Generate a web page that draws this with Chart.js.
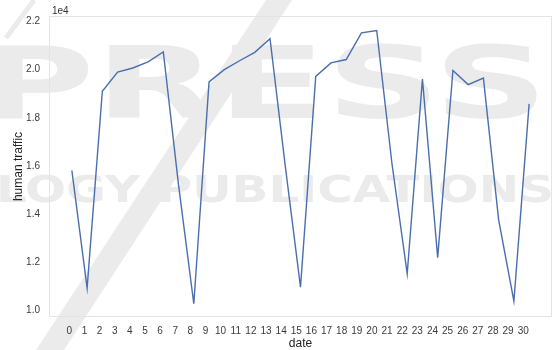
<!DOCTYPE html>
<html>
<head>
<meta charset="utf-8">
<script src="https://cdn.jsdelivr.net/npm/chart.js@4/dist/chart.umd.min.js"></script>
<style>
  html, body { margin: 0; padding: 0; background: #ffffff; }
  canvas { display: block; }
</style>
</head>
<body>
<canvas id="chart" width="554" height="350"></canvas>
<script>
// Daily human traffic over one month
const dates = [0, 1, 2, 3, 4, 5, 6, 7, 8, 9, 10, 11, 12, 13, 14, 15,
               16, 17, 18, 19, 20, 21, 22, 23, 24, 25, 26, 27, 28, 29, 30];
const traffic = [15810, 10920, 19100, 19900, 20070, 20320, 20735, 15200, 10270, 19490,
                 20000, 20370, 20720, 21290, 16000, 10960, 19720, 20280, 20420, 21530,
                 21630, 16100, 11520, 19610, 12190, 19970, 19380, 19650, 13760, 10380, 18580];
const yTicks = [10000, 12000, 14000, 16000, 18000, 20000, 22000];
const yScaleFactor = 1e4;

const FONT = '"Liberation Sans", Arial, sans-serif';
const MARK_FONT = '"DejaVu Sans", sans-serif';
const MARK_COLOR = '#ebebeb';

// Background, publisher watermark and frame
const backdrop = {
  id: 'backdrop',
  beforeDraw(chart) {
    const ctx = chart.ctx;
    ctx.save();
    ctx.fillStyle = '#ffffff';
    ctx.fillRect(0, 0, chart.width, chart.height);

    // slanted logo strokes
    ctx.fillStyle = MARK_COLOR;
    ctx.beginPath();
    ctx.moveTo(266, 0); ctx.lineTo(292, 0); ctx.lineTo(64, 350); ctx.lineTo(36, 350);
    ctx.closePath();
    ctx.fill();
    ctx.strokeStyle = MARK_COLOR;
    ctx.lineWidth = 5;
    ctx.beginPath();
    ctx.moveTo(34, 0); ctx.lineTo(6, 38);
    ctx.stroke();

    ctx.textBaseline = 'alphabetic';
    ctx.textAlign = 'left';
    const stretched = (text, size, x0, x1, base) => {
      ctx.font = 'bold ' + size + 'px ' + MARK_FONT;
      const w = ctx.measureText(text).width;
      ctx.save();
      ctx.translate(x0, base);
      ctx.scale((x1 - x0) / w, 1);
      ctx.fillText(text, 0, 0);
      ctx.restore();
    };
    stretched('PRESS', 100, -22, 548, 118);
    stretched('LOGY PUBLICATIONS', 38, -4, 554, 202);
    ctx.restore();
  },
  afterDraw(chart) {
    const {ctx, chartArea: a} = chart;
    ctx.save();
    ctx.fillStyle = '#333333';
    ctx.font = '10px ' + FONT;
    ctx.textAlign = 'left';
    ctx.textBaseline = 'middle';
    ctx.fillText('1e' + Math.round(Math.log10(yScaleFactor)), a.left + 3, 11);
    ctx.restore();
  },
  beforeDatasetsDraw(chart) {
    const {ctx, chartArea: a} = chart;
    ctx.save();
    ctx.strokeStyle = '#e4e4e4';
    ctx.lineWidth = 1;
    ctx.strokeRect(a.left + 0.5, a.top + 0.5, a.right - a.left - 1, a.bottom - a.top - 1);
    ctx.restore();
  }
};

new Chart(document.getElementById('chart'), {
  type: 'line',
  data: {
    datasets: [{
      label: 'human traffic',
      data: dates.map((d, i) => ({x: d, y: traffic[i]})),
      borderColor: '#4a6fae',
      borderWidth: 1.4,
      pointRadius: 0,
      tension: 0,
      fill: false,
      xAxisID: 'x',
      yAxisID: 'y'
    }]
  },
  options: {
    responsive: false,
    animation: false,
    layout: { padding: { left: 0, right: 2, top: 16, bottom: 0 } },
    plugins: { legend: { display: false }, tooltip: { enabled: false } },
    scales: {
      x: {
        type: 'linear',
        position: 'bottom',
        display: false,
        min: -1.5,
        max: 31.5
      },
      xTicks: {
        type: 'linear',
        position: 'bottom',
        min: -1.342,
        max: 31.9,
        afterBuildTicks: axis => { axis.ticks = dates.map(d => ({value: d})); },
        afterFit: axis => { axis.height = 33; },
        grid: { display: false, drawTicks: false },
        border: { display: false },
        ticks: {
          autoSkip: false,
          maxRotation: 0,
          padding: 8,
          color: '#3a3a3a',
          font: { family: FONT, size: 10 },
          callback: v => String(v)
        },
        title: {
          display: true,
          text: 'date',
          color: '#222222',
          font: { family: FONT, size: 12, lineHeight: 1 },
          padding: { top: 0, bottom: 0 }
        }
      },
      y: {
        type: 'linear',
        position: 'left',
        min: 9720,
        max: 22230,
        afterBuildTicks: axis => { axis.ticks = yTicks.map(v => ({value: v})); },
        afterFit: axis => { axis.width = 49; },
        grid: { display: false, drawTicks: false },
        border: { display: false },
        ticks: {
          padding: 9,
          color: '#3a3a3a',
          font: { family: FONT, size: 10 },
          callback: v => (v / yScaleFactor).toFixed(1)
        },
        title: {
          display: true,
          text: 'human traffic',
          color: '#222222',
          font: { family: FONT, size: 12 },
          padding: { top: 11, bottom: 0 }
        }
      }
    }
  },
  plugins: [backdrop]
});
</script>
</body>
</html>
